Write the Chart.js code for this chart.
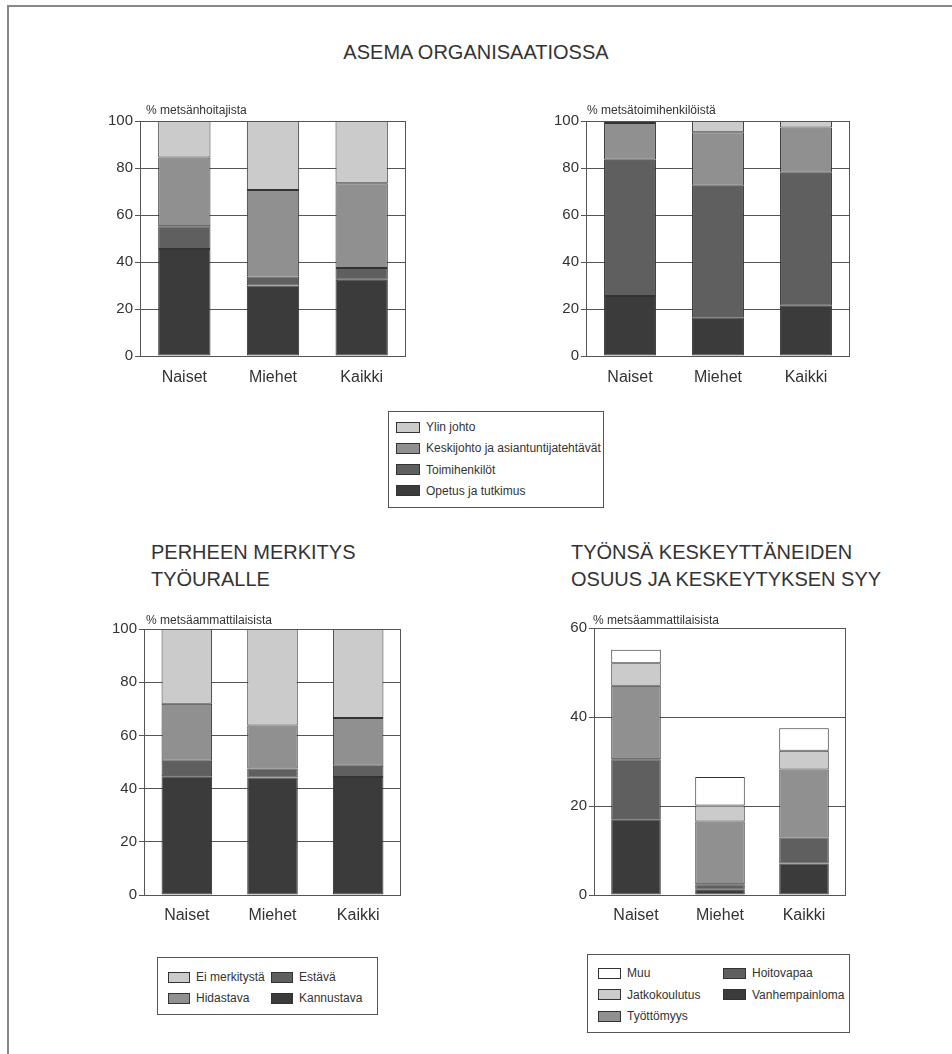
<!DOCTYPE html>
<html>
<head>
<meta charset="utf-8">
<script src="https://cdn.jsdelivr.net/npm/chart.js"></script>
<style>
body { margin: 0; background: #fff; font-family: "Liberation Sans", Arial, sans-serif; color: #333; }
#page { position: relative; width: 952px; height: 1054px; overflow: hidden; }
#frame { position: absolute; left: 7px; top: 5px; width: 1000px; height: 1100px; border-left: 2px solid #888; border-top: 2px solid #888; }
.head { position: absolute; font-size: 20px; line-height: 26.5px; color: #333; white-space: nowrap; }
.chart { position: absolute; }
.legend { position: absolute; border: 1px solid #555; }
.item { position: absolute; font-size: 12px; line-height: 14px; white-space: nowrap; }
.sw { position: absolute; border: 1px solid #333; box-sizing: border-box; }
</style>
</head>
<body>
<div id="page">
  <div id="frame"></div>
  <div class="head" style="left:0;width:952px;text-align:center;top:39px">ASEMA ORGANISAATIOSSA</div>
  <div class="head" style="left:151px;top:539px">PERHEEN MERKITYS<br>TYÖURALLE</div>
  <div class="head" style="left:571px;top:539px">TYÖNSÄ KESKEYTTÄNEIDEN<br>OSUUS JA KESKEYTYKSEN SYY</div>

  <div class="chart" style="left:90px;top:95px;width:320px;height:300px"><canvas id="c1"></canvas></div>
  <div class="chart" style="left:536px;top:95px;width:320px;height:300px"><canvas id="c2"></canvas></div>
  <div class="chart" style="left:94px;top:600px;width:320px;height:335px"><canvas id="c3"></canvas></div>
  <div class="chart" style="left:544px;top:600px;width:320px;height:335px"><canvas id="c4"></canvas></div>

  <div class="legend" id="lg1" style="left:388px;top:411px;width:214px;height:95px"></div>
  <div class="legend" id="lg2" style="left:157px;top:957px;width:219px;height:56px"></div>
  <div class="legend" id="lg3" style="left:587px;top:954px;width:261px;height:77px"></div>
</div>

<script>
var groups = ['Naiset', 'Miehet', 'Kaikki'];

// asema organisaatiossa, % metsänhoitajista
var hoitajaOpetus = [45.5, 30, 32.5];
var hoitajaToimi = [9.7, 3.8, 5];
var hoitajaKeski = [29.3, 36.8, 36];
var hoitajaYlin = [15.5, 29.4, 26.5];

// asema organisaatiossa, % metsätoimihenkilöistä
var toimiOpetus = [25.5, 16.5, 21.4];
var toimiToimi = [58, 56, 56.6];
var toimiKeski = [15.6, 22.7, 19.2];
var toimiYlin = [0.9, 4.8, 2.8];

// perheen merkitys työuralle
var kannustava = [44.6, 44.2, 44.4];
var estava = [5.9, 3.4, 4.2];
var hidastava = [21.4, 16.1, 17.9];
var eiMerkitysta = [28.1, 36.3, 33.5];

// työnsä keskeyttäneet
var vanhempainloma = [17, 1.2, 7.1];
var hoitovapaa = [13.5, 1.2, 5.8];
var tyottomyys = [16.5, 14.1, 15.3];
var jatkokoulutus = [5.1, 3.6, 4.2];
var muu = [3, 6.4, 5.1];

var ticks100 = [0, 20, 40, 60, 80, 100];
var ticks60 = [0, 20, 40, 60];

var asemaNames = ['Opetus ja tutkimus', 'Toimihenkilöt', 'Keskijohto ja asiantuntijatehtävät', 'Ylin johto'];
var perheNames = ['Kannustava', 'Estävä', 'Hidastava', 'Ei merkitystä'];
var syyNames = ['Vanhempainloma', 'Hoitovapaa', 'Työttömyys', 'Jatkokoulutus', 'Muu'];

var shades = ['#3b3b3b', '#5f5f5f', '#909090', '#cbcbcb', '#ffffff'];

Chart.defaults.font.family = '"Liberation Sans", Arial, sans-serif';
Chart.defaults.color = '#333';

// box round the plot and the unit text above it
var framePlugin = {
	id: 'frame',
	afterDatasetsDraw: function (chart, args, opts) {
		var a = chart.chartArea, ctx = chart.ctx;
		ctx.save();
		ctx.strokeStyle = '#555';
		ctx.lineWidth = 1;
		ctx.strokeRect(Math.round(a.left) + 0.5, Math.round(a.top) + 0.5,
			Math.round(a.right - a.left) - 1, Math.round(a.bottom - a.top));
		ctx.fillStyle = '#333';
		ctx.font = '12px "Liberation Sans", Arial, sans-serif';
		ctx.textBaseline = 'middle';
		ctx.fillText(opts.unit, a.left + opts.dx, a.top - opts.dy);
		ctx.restore();
	}
};

function makeChart(id, series, names, tickList, unit, g) {
	var datasets = series.map(function (s, i) {
		return {
			label: names[i],
			data: s,
			backgroundColor: shades[i],
			borderColor: '#333',
			borderWidth: 1,
			borderSkipped: false,
			barPercentage: 0.59,
			categoryPercentage: 1
		};
	});
	return new Chart(document.getElementById(id), {
		type: 'bar',
		data: { labels: groups, datasets: datasets },
		plugins: [framePlugin],
		options: {
			responsive: true,
			maintainAspectRatio: false,
			animation: false,
			layout: { padding: { top: g.pt, right: g.pr, left: 0, bottom: 0 } },
			plugins: {
				legend: { display: false },
				tooltip: { enabled: false },
				frame: { unit: unit, dx: g.dx, dy: g.dy }
			},
			scales: {
				x: {
					stacked: true,
					grid: { display: false, drawTicks: false },
					border: { display: false },
					ticks: { font: { size: 16 }, padding: g.xpad, color: '#333' },
					afterFit: function (s) { s.height = g.xh; }
				},
				y: {
					stacked: true,
					min: tickList[0],
					max: tickList[tickList.length - 1],
					grid: { color: '#555', lineWidth: 1, tickLength: 5 },
					border: { display: false },
					ticks: { stepSize: tickList[1] - tickList[0], font: { size: 15 }, padding: 2, color: '#333' },
					afterFit: function (s) { s.width = 50; }
				}
			}
		}
	});
}

makeChart('c1', [hoitajaOpetus, hoitajaToimi, hoitajaKeski, hoitajaYlin], asemaNames, ticks100,
	'% metsänhoitajista', { pt: 26, pr: 4, xh: 39, xpad: 12, dx: 6, dy: 10 });
makeChart('c2', [toimiOpetus, toimiToimi, toimiKeski, toimiYlin], asemaNames, ticks100,
	'% metsätoimihenkilöistä', { pt: 26, pr: 6, xh: 39, xpad: 12, dx: 1, dy: 10 });
makeChart('c3', [kannustava, estava, hidastava, eiMerkitysta], perheNames, ticks100,
	'% metsäammattilaisista', { pt: 29, pr: 13, xh: 40, xpad: 11, dx: 2, dy: 8 });
makeChart('c4', [vanhempainloma, hoitovapaa, tyottomyys, jatkokoulutus, muu], syyNames, ticks60,
	'% metsäammattilaisista', { pt: 28, pr: 18, xh: 40, xpad: 11, dx: -1, dy: 7 });

// legends list the stack from top to bottom, filled column by column
function buildLegend(id, names, rows, cols, y0, step, sw) {
	var el = document.getElementById(id);
	var order = names.map(function (n, i) { return i; }).reverse();
	order.forEach(function (k, j) {
		var c = Math.floor(j / rows), r = j % rows;
		var y = y0 + r * step;
		var box = document.createElement('div');
		box.className = 'sw';
		box.style.cssText = 'left:' + cols[c] + 'px;top:' + (y - sw[1] / 2) + 'px;width:' + sw[0] + 'px;height:' + sw[1] + 'px;background:' + shades[k];
		var t = document.createElement('div');
		t.className = 'item';
		t.style.cssText = 'left:' + (cols[c] + sw[0] + 6) + 'px;top:' + (y - 7) + 'px';
		t.textContent = names[k];
		el.appendChild(box);
		el.appendChild(t);
	});
}
buildLegend('lg1', asemaNames, 4, [7], 15, 21.3, [24, 11]);
buildLegend('lg2', perheNames, 2, [10, 113], 19, 21, [22, 11]);
buildLegend('lg3', syyNames, 3, [10, 135], 18, 21.5, [23, 11]);
</script>
</body>
</html>
